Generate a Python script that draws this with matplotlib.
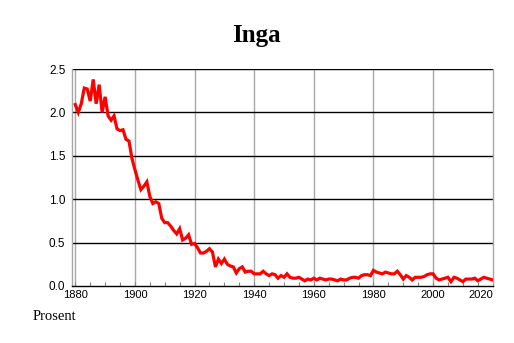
import numpy as np
import matplotlib
matplotlib.use('Agg')
import matplotlib.pyplot as plt
from matplotlib.ticker import MultipleLocator

title = 'Inga'
ylabel = 'Prosent'
years = list(range(1880, 2021))
percent = [
    2.09, 2.00, 2.10, 2.28, 2.27, 2.13, 2.38, 2.10, 2.32, 2.00,   # 1880s
    2.18, 1.96, 1.91, 1.96, 1.81, 1.79, 1.80, 1.69, 1.67, 1.47,   # 1890s
    1.34, 1.22, 1.11, 1.15, 1.20, 1.03, 0.95, 0.97, 0.95, 0.78,   # 1900s
    0.73, 0.73, 0.69, 0.64, 0.60, 0.66, 0.53, 0.55, 0.59, 0.48,   # 1910s
    0.49, 0.44, 0.38, 0.38, 0.40, 0.43, 0.39, 0.22, 0.31, 0.26,   # 1920s
    0.31, 0.25, 0.23, 0.22, 0.15, 0.20, 0.22, 0.16, 0.17, 0.17,   # 1930s
    0.14, 0.14, 0.14, 0.17, 0.14, 0.12, 0.14, 0.13, 0.09, 0.12,   # 1940s
    0.10, 0.14, 0.10, 0.09, 0.09, 0.10, 0.08, 0.06, 0.08, 0.07,   # 1950s
    0.09, 0.07, 0.09, 0.08, 0.07, 0.08, 0.08, 0.07, 0.06, 0.08,   # 1960s
    0.07, 0.07, 0.09, 0.10, 0.10, 0.09, 0.12, 0.13, 0.13, 0.12,   # 1970s
    0.18, 0.16, 0.15, 0.14, 0.16, 0.15, 0.14, 0.14, 0.17, 0.13,   # 1980s
    0.08, 0.12, 0.10, 0.07, 0.10, 0.10, 0.10, 0.11, 0.13, 0.14,   # 1990s
    0.14, 0.09, 0.07, 0.08, 0.09, 0.10, 0.05, 0.10, 0.09, 0.07,   # 2000s
    0.05, 0.08, 0.08, 0.08, 0.09, 0.06, 0.08, 0.10, 0.09, 0.08,   # 2010s
    0.07,                                                         # 2020
]
xticks = [1880, 1900, 1920, 1940, 1960, 1980, 2000, 2020]
yticks = [0.0, 0.5, 1.0, 1.5, 2.0, 2.5]

fig = plt.figure(figsize=(5.14, 3.43), dpi=100)
ax = fig.add_axes([0.1407, 0.1662, 0.8179, 0.6326])

sans = 'Liberation Sans'
serif = 'Liberation Serif'

# grid: gray verticals, black horizontals
for x in xticks[:-1]:
    ax.axvline(x, color='#a8a8a8', lw=1.0, zorder=1)
for y in yticks[1:]:
    ax.axhline(y, color='black', lw=1.0, zorder=1)

ax.plot(years, percent, color='#ff0000', lw=2.3, zorder=3, solid_joinstyle='miter')

ax.set_xlim(1879, 2020)
ax.set_ylim(0, 2.5)
ax.set_xticks(xticks)
ax.set_yticks(yticks)
ax.set_yticklabels([f'{v:.1f}' for v in yticks], fontfamily=sans, fontsize=8.5)
ax.set_xticklabels([str(v) for v in xticks], fontfamily=sans, fontsize=8)
ax.get_xticklabels()[-1].set_horizontalalignment('right')
ax.xaxis.set_minor_locator(MultipleLocator(5))
ax.tick_params(axis='x', which='both', direction='in', length=3, width=0.8,
               color='#888888', pad=3)
ax.tick_params(axis='y', length=0, pad=5)

ax.spines['left'].set_color('#a8a8a8')
ax.spines['right'].set_color('#a8a8a8')
ax.spines['top'].set_visible(False)
ax.spines['bottom'].set_color('black')
for s in ax.spines.values():
    s.set_linewidth(1.0)

fig.text(0.498, 0.878, title, ha='center', va='baseline', fontfamily=serif,
         fontsize=18, fontweight='bold')
fig.text(0.064, 0.067, ylabel, ha='left', va='baseline', fontfamily=serif,
         fontsize=10.5)

fig.savefig('out.png', dpi=100)
